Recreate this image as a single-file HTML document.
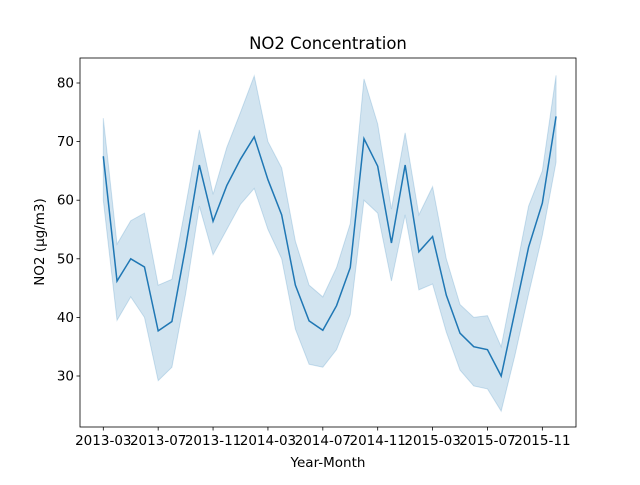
<!DOCTYPE html>
<html><head><meta charset="utf-8"><style>
body{margin:0;background:#fff}
svg text{font-family:"DejaVu Sans","Liberation Sans",sans-serif;fill:#000}
</style></head><body>
<svg width="640" height="480">
<rect width="640" height="480" fill="#fff"/>
<g id="plot"></g>
<text x="328" y="49" font-size="16.5" text-anchor="middle">NO2 Concentration</text>
<text x="328" y="467" font-size="13.5" text-anchor="middle">Year-Month</text>
<text x="0" y="0" font-size="13.5" text-anchor="middle" transform="translate(44,242) rotate(-90)">NO2 (μg/m3)</text>
</svg>
<script>
const months=["2013-03","2013-04","2013-05","2013-06","2013-07","2013-08","2013-09","2013-10","2013-11","2013-12","2014-01","2014-02","2014-03","2014-04","2014-05","2014-06","2014-07","2014-08","2014-09","2014-10","2014-11","2014-12","2015-01","2015-02","2015-03","2015-04","2015-05","2015-06","2015-07","2015-08","2015-09","2015-10","2015-11","2015-12"];
const meanVals=[67.5,46.2,50,48.6,37.7,39.3,52,66,56.4,62.5,67,70.8,63.5,57.5,45.5,39.4,37.8,42,48.5,70.5,65.8,52.7,66,51.2,53.8,43.8,37.3,35,34.5,30,41,52,59.5,74.3];
const upperVals=[74,52.5,56.5,57.8,45.5,46.5,59,72,61,69,75,81.2,70,65.5,53,45.5,43.5,48.5,56,80.7,73,58.5,71.5,57.5,62.3,50,42.2,40,40.3,35,47,59,65,81.3];
const lowerVals=[60,39.5,43.5,40,29.2,31.5,44,59,50.7,55,59.3,62,55,50,38,32,31.5,34.5,40.5,60,57.8,46.2,57.5,44.7,45.7,37.5,31,28.3,27.8,24,33.5,44,54,66.5];
const yTicks=[30,40,50,60,70,80];
const xTickLabels=["2013-03","2013-07","2013-11","2014-03","2014-07","2014-11","2015-03","2015-07","2015-11"];
const NS="http://www.w3.org/2000/svg";
const L=80,R=576,T=58,B=427;
const xs=i=>103.3+i*13.72;
const ys=v=>376-(v-30)*5.86;
const g=document.getElementById('plot');
function mk(t,a){const e=document.createElementNS(NS,t);for(const k in a)e.setAttribute(k,a[k]);g.appendChild(e);return e;}
let d=upperVals.map((v,i)=>(i?'L':'M')+xs(i)+','+ys(v)).join('');
for(let i=lowerVals.length-1;i>=0;i--)d+='L'+xs(i)+','+ys(lowerVals[i]);
const band=mk('path',{d:d+'Z',fill:'#1f77b4','fill-opacity':0.2,stroke:'#1f77b4','stroke-opacity':0.2});


const line=mk('path',{d:meanVals.map((v,i)=>(i?'L':'M')+xs(i)+','+ys(v)).join(''),fill:'none',stroke:'#1f77b4','stroke-width':1.5});


const fr=mk('rect',{x:L,y:T,width:R-L,height:B-T,fill:'none',stroke:'#000','stroke-width':0.8});


yTicks.forEach(v=>{const y=ys(v);
mk('line',{x1:L-3.5,x2:L,y1:y,y2:y,stroke:'#000','stroke-width':0.8});
const t=mk('text',{x:L-6,y:y+4.5,'font-size':13.5,'text-anchor':'end'});t.textContent=v;

});
xTickLabels.forEach(lab=>{const i=months.indexOf(lab);const x=xs(i);
mk('line',{x1:x,x2:x,y1:B,y2:B+3.5,stroke:'#000','stroke-width':0.8});
const t=mk('text',{x:x,y:B+18,'font-size':13.5,'text-anchor':'middle'});t.textContent=lab;

});
</script>
</body></html>
